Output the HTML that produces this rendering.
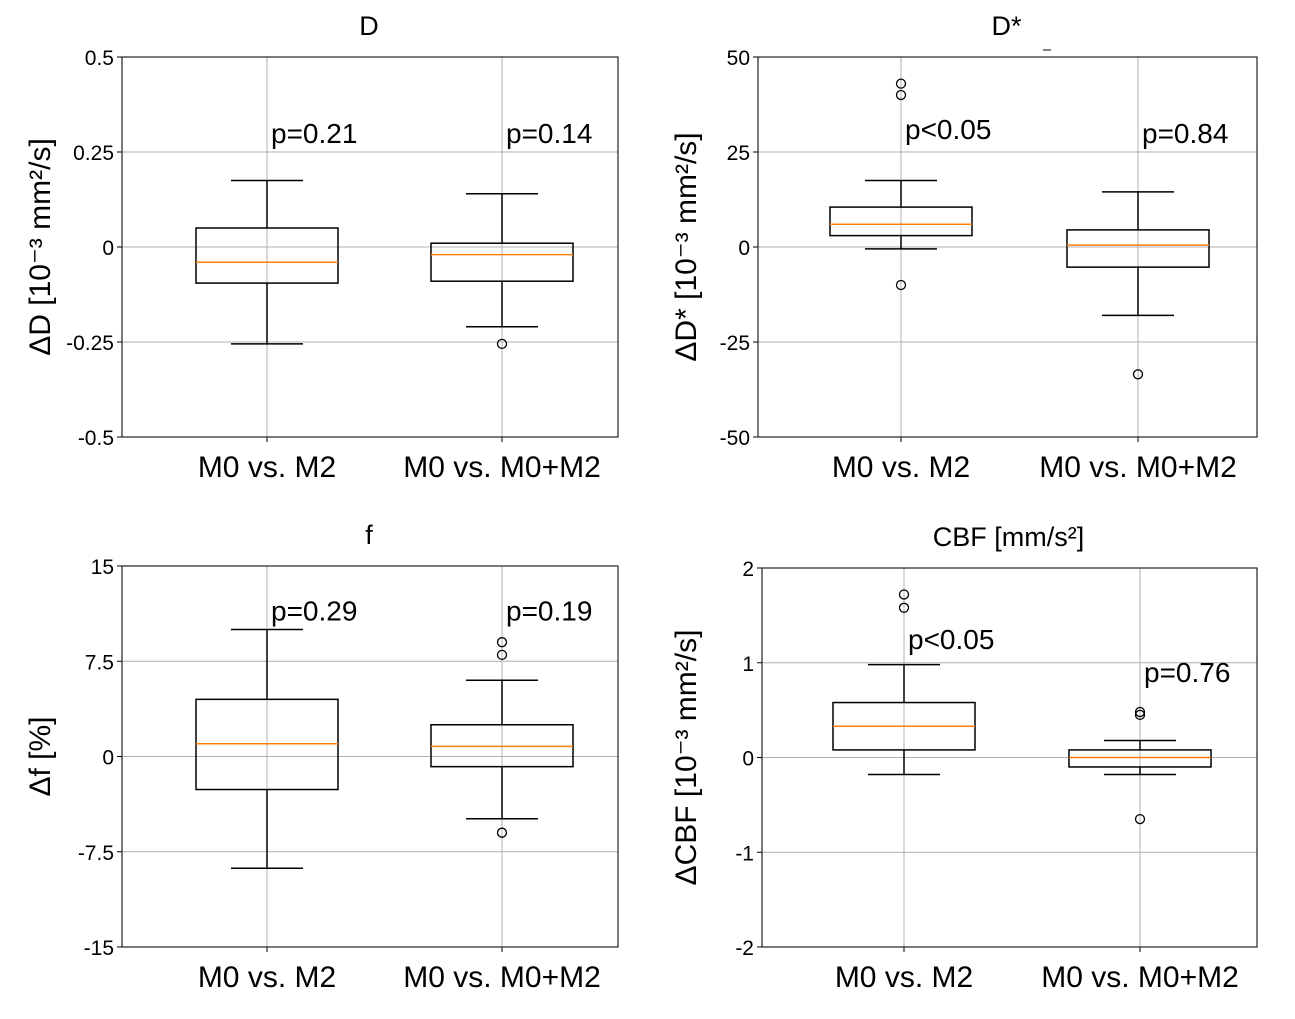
<!DOCTYPE html>
<html><head><meta charset="utf-8"><style>
html,body{margin:0;padding:0;background:#fff;}
svg{display:block;font-family:"Liberation Sans","DejaVu Sans",sans-serif;}
</style></head><body>
<svg id="fig" width="1295" height="1019" viewBox="0 0 1295 1019" xmlns="http://www.w3.org/2000/svg"></svg>
<script>
// ---- data ----
const categories = ["M0 vs. M2", "M0 vs. M0+M2"];
const titles = ["D", "D*", "f", "CBF [mm/s²]"];
const yTickLabelsD = ["0.5","0.25","0","-0.25","-0.5"];
const yTickValuesD = [0.5,0.25,0,-0.25,-0.5];
const yTickLabelsDs = ["50","25","0","-25","-50"];
const yTickValuesDs = [50,25,0,-25,-50];
const yTickLabelsF = ["15","7.5","0","-7.5","-15"];
const yTickValuesF = [15,7.5,0,-7.5,-15];
const yTickLabelsCBF = ["2","1","0","-1","-2"];
const yTickValuesCBF = [2,1,0,-1,-2];
// per box: [whiskerLow, Q1, median, Q3, whiskerHigh]
const statsD = [[-0.255,-0.095,-0.04,0.05,0.175],[-0.21,-0.09,-0.02,0.01,0.14]];
const outliersD = [[],[-0.255]];
const statsDs = [[-0.5,3,6,10.5,17.5],[-18,-5.3,0.5,4.5,14.5]];
const outliersDs = [[43,40,-10],[-33.5]];
const statsF = [[-8.8,-2.6,1,4.5,10],[-4.9,-0.8,0.8,2.5,6]];
const outliersF = [[],[9,8,-6]];
const statsCBF = [[-0.18,0.08,0.33,0.58,0.98],[-0.18,-0.1,0,0.08,0.18]];
const outliersCBF = [[1.72,1.58],[0.48,0.45,-0.65]];
const pLabelsD = ["p=0.21","p=0.14"];
const pValuesPosD = [0.3,0.3];
const pLabelsDs = ["p<0.05","p=0.84"];
const pValuesPosDs = [31,30];
const pLabelsF = ["p=0.29","p=0.19"];
const pValuesPosF = [11.5,11.5];
const pLabelsCBF = ["p<0.05","p=0.76"];
const pValuesPosCBF = [1.25,0.9];
const yTitles = ["ΔD  [10⁻³ mm²/s]","ΔD* [10⁻³ mm²/s]","Δf [%]","ΔCBF [10⁻³ mm²/s]"];

const NS="http://www.w3.org/2000/svg";
const svg=document.getElementById('fig');
function mk(tag,attrs,parent){const e=document.createElementNS(NS,tag);for(const k in attrs)e.setAttribute(k,attrs[k]);(parent||svg).appendChild(e);return e;}

const panels=[
 {x0:122,x1:618,y0:57,y1:437,cx:[267,502],min:-0.5,max:0.5,tl:yTickLabelsD,tv:yTickValuesD,st:statsD,out:outliersD,pl:pLabelsD,pp:pValuesPosD,title:titles[0],yt:yTitles[0],ytx:42,name:'d'},
 {x0:758,x1:1257,y0:57,y1:437,cx:[901,1138],min:-50,max:50,tl:yTickLabelsDs,tv:yTickValuesDs,st:statsDs,out:outliersDs,pl:pLabelsDs,pp:pValuesPosDs,title:titles[1],yt:yTitles[1],ytx:688,name:'dstar'},
 {x0:122,x1:618,y0:566,y1:947,cx:[267,502],min:-15,max:15,tl:yTickLabelsF,tv:yTickValuesF,st:statsF,out:outliersF,pl:pLabelsF,pp:pValuesPosF,title:titles[2],yt:yTitles[2],ytx:42,name:'f'},
 {x0:762,x1:1257,y0:568,y1:947,cx:[904,1140],min:-2,max:2,tl:yTickLabelsCBF,tv:yTickValuesCBF,st:statsCBF,out:outliersCBF,pl:pLabelsCBF,pp:pValuesPosCBF,title:titles[3],yt:yTitles[3],ytx:688,name:'cbf'}
];

panels.forEach(P=>{
 const g=mk('g',{});
 
 
 const y=v=>P.y1-(v-P.min)/(P.max-P.min)*(P.y1-P.y0);
 P.tv.forEach((v,i)=>{
  const l=mk('line',{x1:P.x0,x2:P.x1,y1:y(v),y2:y(v),stroke:'#b0b0b0','stroke-width':1},g);
  
  
  const t=mk('text',{x:P.x0-8,y:y(v)+8,'text-anchor':'end','font-size':21,fill:'#000'},g);
  t.textContent=P.tl[i];
  
  
  mk('line',{x1:P.x0-5,x2:P.x0,y1:y(v),y2:y(v),stroke:'#000'},g);
 });
 P.cx.forEach((cx,i)=>{
  const l=mk('line',{x1:cx,x2:cx,y1:P.y0,y2:P.y1,stroke:'#b0b0b0','stroke-width':1},g);
  
  
  mk('line',{x1:cx,x2:cx,y1:P.y1,y2:P.y1+5,stroke:'#000'},g);
  const t=mk('text',{x:cx,y:P.y1+40,'text-anchor':'middle','font-size':30,fill:'#000'},g);
  t.textContent=categories[i];
  
  
 });
 const fr=mk('rect',{x:P.x0,y:P.y0,width:P.x1-P.x0,height:P.y1-P.y0,fill:'none',stroke:'#222','stroke-width':1.2},g);
 
 
 const hw=71, cap=36;
 P.st.forEach((s,i)=>{
  const cx=P.cx[i];
  const bg=mk('g',{},g);
  
  
  mk('line',{x1:cx,x2:cx,y1:y(s[0]),y2:y(s[1]),stroke:'#000','stroke-width':1.5},bg);
  mk('line',{x1:cx,x2:cx,y1:y(s[3]),y2:y(s[4]),stroke:'#000','stroke-width':1.5},bg);
  mk('line',{x1:cx-cap,x2:cx+cap,y1:y(s[0]),y2:y(s[0]),stroke:'#000','stroke-width':1.5},bg);
  mk('line',{x1:cx-cap,x2:cx+cap,y1:y(s[4]),y2:y(s[4]),stroke:'#000','stroke-width':1.5},bg);
  mk('rect',{x:cx-hw,y:y(s[3]),width:2*hw,height:y(s[1])-y(s[3]),fill:'none',stroke:'#000','stroke-width':1.5},bg);
  const m=mk('line',{x1:cx-hw,x2:cx+hw,y1:y(s[2]),y2:y(s[2]),stroke:'#ff7f0e','stroke-width':1.5},bg);
  
  
  P.out[i].forEach(o=>{
   const c=mk('circle',{cx:cx,cy:y(o),r:4.5,fill:'none',stroke:'#000','stroke-width':1.3},bg);
   
   
  });
  const pt=mk('text',{x:cx+4,y:y(P.pp[i])+10,'font-size':28,fill:'#000'},g);
  pt.textContent=P.pl[i];
  
  
 });
 const tt=mk('text',{x:(P.x0+P.x1)/2-1,y:P.y0-22,'text-anchor':'middle','font-size':27,fill:'#000'},g);
 tt.textContent=P.title;
 
 
 const yc=(P.y0+P.y1)/2;
 const yt=mk('text',{x:P.ytx,y:yc,'text-anchor':'middle','font-size':30,fill:'#000',transform:`rotate(-90 ${P.ytx} ${yc})`,'dominant-baseline':'middle'},g);
 yt.textContent=P.yt;
 
 
});
mk('line',{x1:1043,x2:1051,y1:50,y2:50,stroke:'#000','stroke-width':1});
</script>
</body></html>
